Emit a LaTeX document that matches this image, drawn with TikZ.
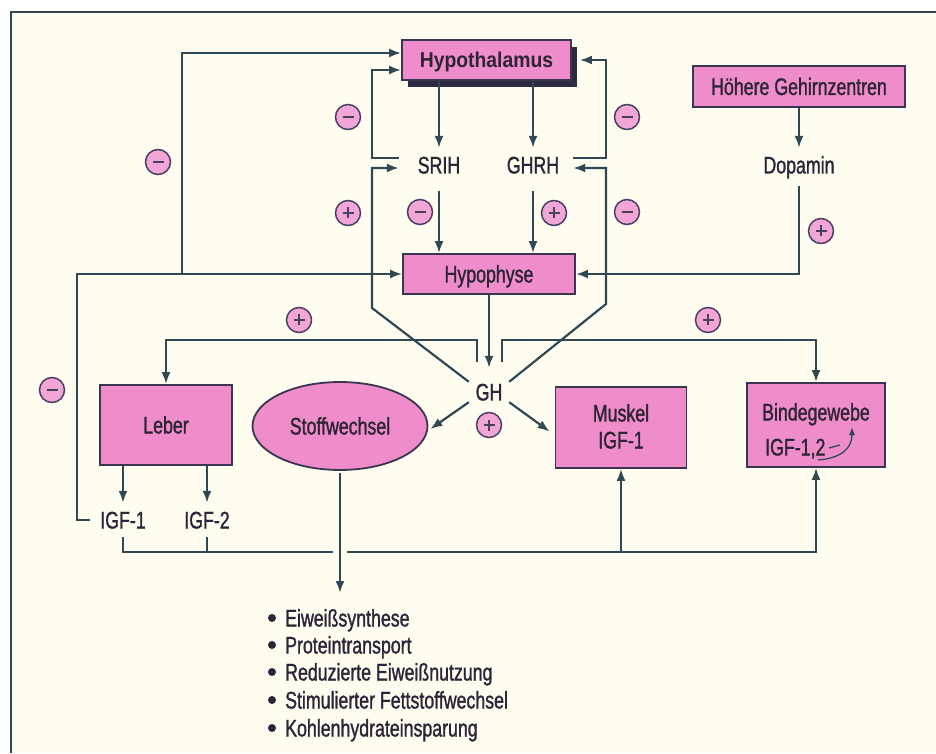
\documentclass[tikz,border=0pt]{standalone}
\usepackage{fontspec}
\setmainfont{Liberation Sans}[FakeStretch=0.74, FakeBold=1.2]
\newfontfamily\hyfont{Liberation Sans}[FakeStretch=0.9]
\usetikzlibrary{arrows.meta,shapes.geometric,shadows}
\definecolor{bgc}{HTML}{FFFDF0}
\definecolor{pk}{HTML}{EE8DC9}
\definecolor{pkl}{HTML}{F2A6D6}
\definecolor{lc}{HTML}{2F4852}
\definecolor{bc}{HTML}{3A3550}
\definecolor{tc}{HTML}{2E2438}
\definecolor{sc}{HTML}{4A3F63}
\newcommand\myLfont{\fontsize{24}{27}\selectfont}
\tikzset{
  ln/.style={draw=lc, line width=2.2pt},
  arr/.style={ln, -{Latex[length=12pt,width=9pt]}},
  pbox/.style={draw=bc, line width=1.8pt, fill=pk, text=tc, inner sep=0pt,
    text height=17pt, text depth=0pt, font=\myLfont},
  lbl/.style={text=tc, inner xsep=0pt, inner ysep=8.5pt, text height=17pt,
    text depth=0pt, font=\myLfont},
  sg/.style={circle, draw=sc, fill=pkl, line width=1.5pt, minimum size=25pt, inner sep=0pt},
  sgminus/.style={sg, path picture={\draw[sc, line width=2pt]
    ([xshift=-5.5pt]path picture bounding box.center) -- ([xshift=5.5pt]path picture bounding box.center);}},
  sgplus/.style={sg, path picture={\draw[sc, line width=2pt]
    ([xshift=-5.5pt]path picture bounding box.center) -- ([xshift=5.5pt]path picture bounding box.center)
    ([yshift=-5.5pt]path picture bounding box.center) -- ([yshift=5.5pt]path picture bounding box.center);}},
}
\begin{document}
\begin{tikzpicture}[x=1pt,y=1pt]
\useasboundingbox (0,0) rectangle (936,753);
\fill[white] (0,0) rectangle (936,753);
\fill[bgc] (11,0) rectangle (936,741);
\draw[lc, line width=2.2pt] (11,0) -- (11,741) -- (936,741);

% nodes
\node[pbox, text height=15.5pt, minimum width=169pt, minimum height=40pt,
  general shadow={fill=bc!80!black, shadow xshift=6pt, shadow yshift=-7pt},
  font=\hyfont\bfseries\fontsize{21.5}{24}\selectfont] (hyp) at (486.5,693) {Hypothalamus};
\node[pbox, minimum width=212pt, minimum height=41pt] (hg) at (799,666.5) {Höhere Gehirnzentren};
\node[lbl, minimum width=80pt] (srih) at (439,588) {SRIH};
\node[lbl, minimum width=80pt] (ghrh) at (533,588) {GHRH};
\node[lbl] (dop) at (799,588) {Dopamin};
\node[pbox, minimum width=172pt, minimum height=40pt] (hypo) at (489,479) {Hypophyse};
\node[lbl, minimum width=40pt, inner ysep=1.5pt] (gh) at (489,361) {GH};
\node[pbox, minimum width=132pt, minimum height=80pt] (leber) at (166,328) {Leber};
\node[ellipse, draw=bc, line width=1.8pt, fill=pk, text=tc, inner sep=0pt,
  minimum width=175pt, minimum height=88pt, text height=17pt, text depth=0pt,
  font=\myLfont] (stoff) at (340,327) {Stoffwechsel};
\node[pbox, minimum width=131pt, minimum height=81pt] (musk) at (621,325.5) {};
\node[lbl, inner ysep=0pt] (mt1) at (621,340) {Muskel};
\node[lbl, inner ysep=0pt] (mt2) at (621,313) {IGF-1};
\node[pbox, minimum width=138pt, minimum height=84pt] (binde) at (816,328) {};
\node[lbl, inner ysep=0pt] (bt1) at (816,341) {Bindegewebe};
\node[lbl, inner ysep=0pt, anchor=west] (bt2) at (765,306) {IGF-1,2};
\node[lbl, inner xsep=10pt] (igf1) at (123,233) {IGF-1};
\node[lbl] (igf2) at (207,233) {IGF-2};

% list
\foreach \t/\yy [count=\i] in {Eiweißsynthese/135, Proteintransport/108,
  Reduzierte Eiweißnutzung/81, Stimulierter Fettstoffwechsel/53, Kohlenhydrateinsparung/25}{
  \node[lbl, inner ysep=0pt, anchor=west] (l\i) at (285,\yy) {\t};
  \fill[tc] (272,\yy) circle (4pt);
}

\coordinate (j1) at (182,479);
\coordinate (bl) at (0,201);
\coordinate (lt) at (340,160);

% connectors
\draw[arr] (hyp.south -| srih) -- (srih.north);
\draw[arr] (hyp.south -| ghrh) -- (ghrh.north);
\draw[arr] ([yshift=-9pt]srih.south) -- (srih |- hypo.north);
\draw[arr] ([yshift=-9pt]ghrh.south) -- (ghrh |- hypo.north);
\draw[arr] (hg.south) -- (dop.north);
\draw[arr] ([yshift=-4pt]dop.south) |- (hypo.east);
\draw[arr] (igf1.west) -- ++(-13,0) |- (hypo.west);
\draw[arr] (j1) |- ([yshift=7pt]hyp.west);
\draw[arr] ([yshift=7pt]srih.west) -- ++(-27,0) |- ([yshift=-10pt]hyp.west);
\draw[arr] (gh.north west) -- (372,445) |- ([yshift=-3pt]srih.west);
\draw[arr] ([yshift=7pt]ghrh.east) -- ++(33,0) |- ([xshift=8pt]hyp.east);
\draw[arr] (gh.north east) -- (606,449) |- ([yshift=-3pt]ghrh.east);
\draw[arr] (hypo.south) -- ([yshift=14pt]gh.north);
\draw[arr] ([shift={(-12pt,20pt)}]gh.north) -- ++(0,22) -| (leber.north);
\draw[arr] ([shift={(13pt,20pt)}]gh.north) -- ++(0,22) -| (binde.north);
\draw[arr] (gh.south west) -- ([xshift=2pt,yshift=-3pt]stoff.east);
\draw[arr] (gh.south east) -- ([xshift=-5pt,yshift=-4pt]musk.west);
\draw[arr] (leber.south -| igf1) -- (igf1.north);
\draw[arr] (leber.south -| igf2) -- (igf2.north);
\draw[arr] (igf1.south) -- (igf1.south |- bl) -| (binde.south);
\draw[ln] (igf2.south) -- (igf2.south |- bl);
\draw[arr] (musk.south |- bl) -- (musk.south);
\fill[bgc] ([shift={(-7pt,-5pt)}]stoff.south |- bl) rectangle ([shift={(7pt,5pt)}]stoff.south |- bl);
\draw[arr] ([yshift=-2pt]stoff.south) -- (lt);
\draw[ln, line width=1.3pt, -{Latex[length=8pt,width=6pt]}]
  ([shift={(2pt,-35pt)}]binde.center) .. controls ([shift={(26pt,-33pt)}]binde.center)
  and ([shift={(36pt,-23pt)}]binde.center) .. ([shift={(36pt,-2pt)}]binde.center);
\draw[ln, line width=1.3pt] ([shift={(13pt,-23pt)}]binde.center) -- ([shift={(24pt,-20pt)}]binde.center);

% signs
\node[sgminus] (s1) at (348,636) {};
\node[sgminus] (s2) at (158,591) {};
\node[sgplus] (s3) at (348,540) {};
\node[sgminus] (s4) at (420,541) {};
\node[sgplus] (s5) at (554,540) {};
\node[sgminus] (s6) at (627,636) {};
\node[sgminus] (s7) at (627,541) {};
\node[sgplus] (s8) at (821,522) {};
\node[sgplus] (s9) at (299,433) {};
\node[sgplus] (s10) at (708,433) {};
\node[sgplus] (s11) at (489,328) {};
\node[sgminus] (s12) at (52,363) {};
\end{tikzpicture}
\end{document}
